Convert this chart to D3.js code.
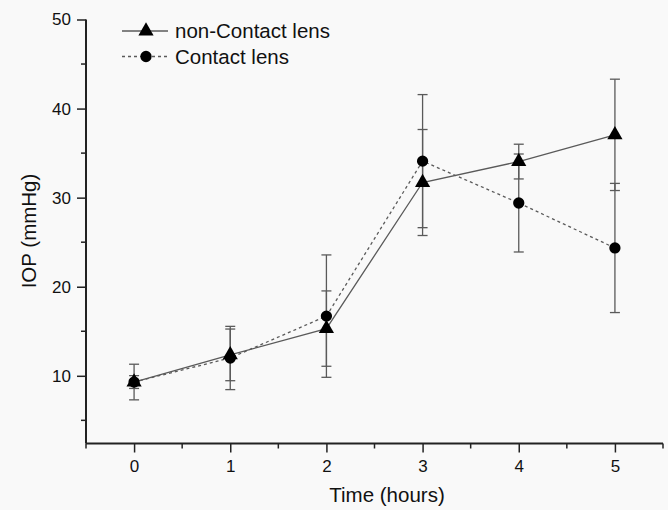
<!DOCTYPE html>
<html><head><meta charset="utf-8">
<script src="https://cdn.jsdelivr.net/npm/d3@7"></script>
<style>body{margin:0;background:#f9f9f9;}svg{display:block;}</style>
</head><body>
<svg id="chart" width="668" height="510"></svg>
<script>
const times = [0, 1, 2, 3, 4, 5];
const nonContact = [9.3, 12.35, 15.3, 31.7, 34.05, 37.05];
const nonContactErr = [0.72, 2.9, 4.23, 5.95, 1.95, 6.25];
const contact = [9.3, 12.0, 16.7, 34.1, 29.4, 24.35];
const contactErr = [2.0, 3.55, 6.87, 7.47, 5.5, 7.25];
const xTicks = [0, 1, 2, 3, 4, 5];
const yTicks = [10, 20, 30, 40, 50];
const seriesNames = ["non-Contact lens", "Contact lens"];

const svg = d3.select("#chart");
const W = 668, H = 510;
svg.append("rect").attr("width", W).attr("height", H).attr("fill", "#f9f9f9");
const m = {left: 86, right: 663, top: 19.5, bottom: 443.5};
const x = d3.scaleLinear().domain([-0.5, 5.5]).range([m.left, m.right]);
const y = d3.scaleLinear().domain([2.4, 50]).range([m.bottom, m.top]);
const font = "'Liberation Sans', Arial, sans-serif";

// minor ticks
const xMinor = d3.range(-0.5, 5.51, 0.5).filter(v => !xTicks.includes(v));
const yMinor = d3.range(5, 50, 5).filter(v => !yTicks.includes(v));
const ga = svg.append("g");
ga.selectAll(".xm").data(xMinor).join("line")
  .attr("x1", d => x(d)).attr("x2", d => x(d)).attr("y1", m.bottom).attr("y2", m.bottom + 5)
  .attr("stroke", "#222").attr("stroke-width", 1.5);
ga.selectAll(".ym").data(yMinor).join("line")
  .attr("y1", d => y(d)).attr("y2", d => y(d)).attr("x1", m.left).attr("x2", m.left - 5)
  .attr("stroke", "#222").attr("stroke-width", 1.5);

const xAxis = d3.axisBottom(x).tickValues(xTicks).tickSize(9).tickPadding(7).tickFormat(d3.format("d"));
const yAxis = d3.axisLeft(y).tickValues(yTicks).tickSize(9).tickPadding(6).tickFormat(d3.format("d"));
const gx = svg.append("g").attr("transform", `translate(0,${m.bottom})`).call(xAxis);
const gy = svg.append("g").attr("transform", `translate(${m.left},0)`).call(yAxis);
[gx, gy].forEach(g => {
  g.select(".domain").remove();
  g.selectAll(".tick line").attr("stroke", "#222").attr("stroke-width", 1.5);
  g.selectAll(".tick text").attr("fill", "#111").style("font-family", font).style("font-size", "17px");
});
svg.append("line").attr("x1", m.left).attr("x2", m.right).attr("y1", m.bottom).attr("y2", m.bottom)
  .attr("stroke", "#222").attr("stroke-width", 2);
svg.append("line").attr("x1", m.left).attr("x2", m.left).attr("y1", m.top).attr("y2", m.bottom)
  .attr("stroke", "#222").attr("stroke-width", 2);

svg.append("text").attr("x", 387).attr("y", 502).attr("text-anchor", "middle")
  .style("font-family", font).style("font-size", "20.5px").attr("fill", "#111").text("Time (hours)");
svg.append("text").attr("transform", `translate(36,231) rotate(-90)`)
  .attr("text-anchor", "middle").style("font-family", font).style("font-size", "20.5px").attr("fill", "#111")
  .text("IOP (mmHg)");

const series = [
  {name: seriesNames[0], vals: nonContact, err: nonContactErr, dash: null, sym: d3.symbolTriangle, size: 100},
  {name: seriesNames[1], vals: contact, err: contactErr, dash: "3,3", sym: d3.symbolCircle, size: 100}
];
const grey = "#5a5a5a";
// error bars
series.forEach(s => {
  const g = svg.append("g");
  times.forEach((t, i) => {
    const cx = x(t), hi = y(s.vals[i] + s.err[i]), lo = y(s.vals[i] - s.err[i]);
    g.append("line").attr("x1", cx).attr("x2", cx).attr("y1", hi).attr("y2", lo).attr("stroke", grey).attr("stroke-width", 1.3);
    [hi, lo].forEach(yy => g.append("line").attr("x1", cx - 5).attr("x2", cx + 5).attr("y1", yy).attr("y2", yy)
      .attr("stroke", grey).attr("stroke-width", 1.3));
  });
});
const line = d3.line().x((d, i) => x(times[i])).y(d => y(d));
series.forEach(s => {
  svg.append("path").datum(s.vals).attr("d", line).attr("fill", "none").attr("stroke", grey)
    .attr("stroke-width", 1.3).attr("stroke-dasharray", s.dash);
});
series.forEach(s => {
  svg.append("g").selectAll("path").data(s.vals).join("path")
    .attr("d", d3.symbol().type(s.sym).size(s.size))
    .attr("transform", (d, i) => `translate(${x(times[i])},${y(d)})`)
    .attr("fill", "#000");
});

// legend
const lg = svg.append("g");
series.forEach((s, i) => {
  const yy = 31 + i * 25.5;
  lg.append("line").attr("x1", 122).attr("x2", 168).attr("y1", yy).attr("y2", yy)
    .attr("stroke", grey).attr("stroke-width", 1.3).attr("stroke-dasharray", s.dash);
  lg.append("path").attr("d", d3.symbol().type(s.sym).size(s.size)).attr("transform", `translate(146,${yy})`).attr("fill", "#000");
  lg.append("text").attr("x", 175).attr("y", yy).attr("dy", "0.35em")
    .style("font-family", font).style("font-size", "20.5px").attr("fill", "#111").text(s.name);
});
</script>
</body></html>
